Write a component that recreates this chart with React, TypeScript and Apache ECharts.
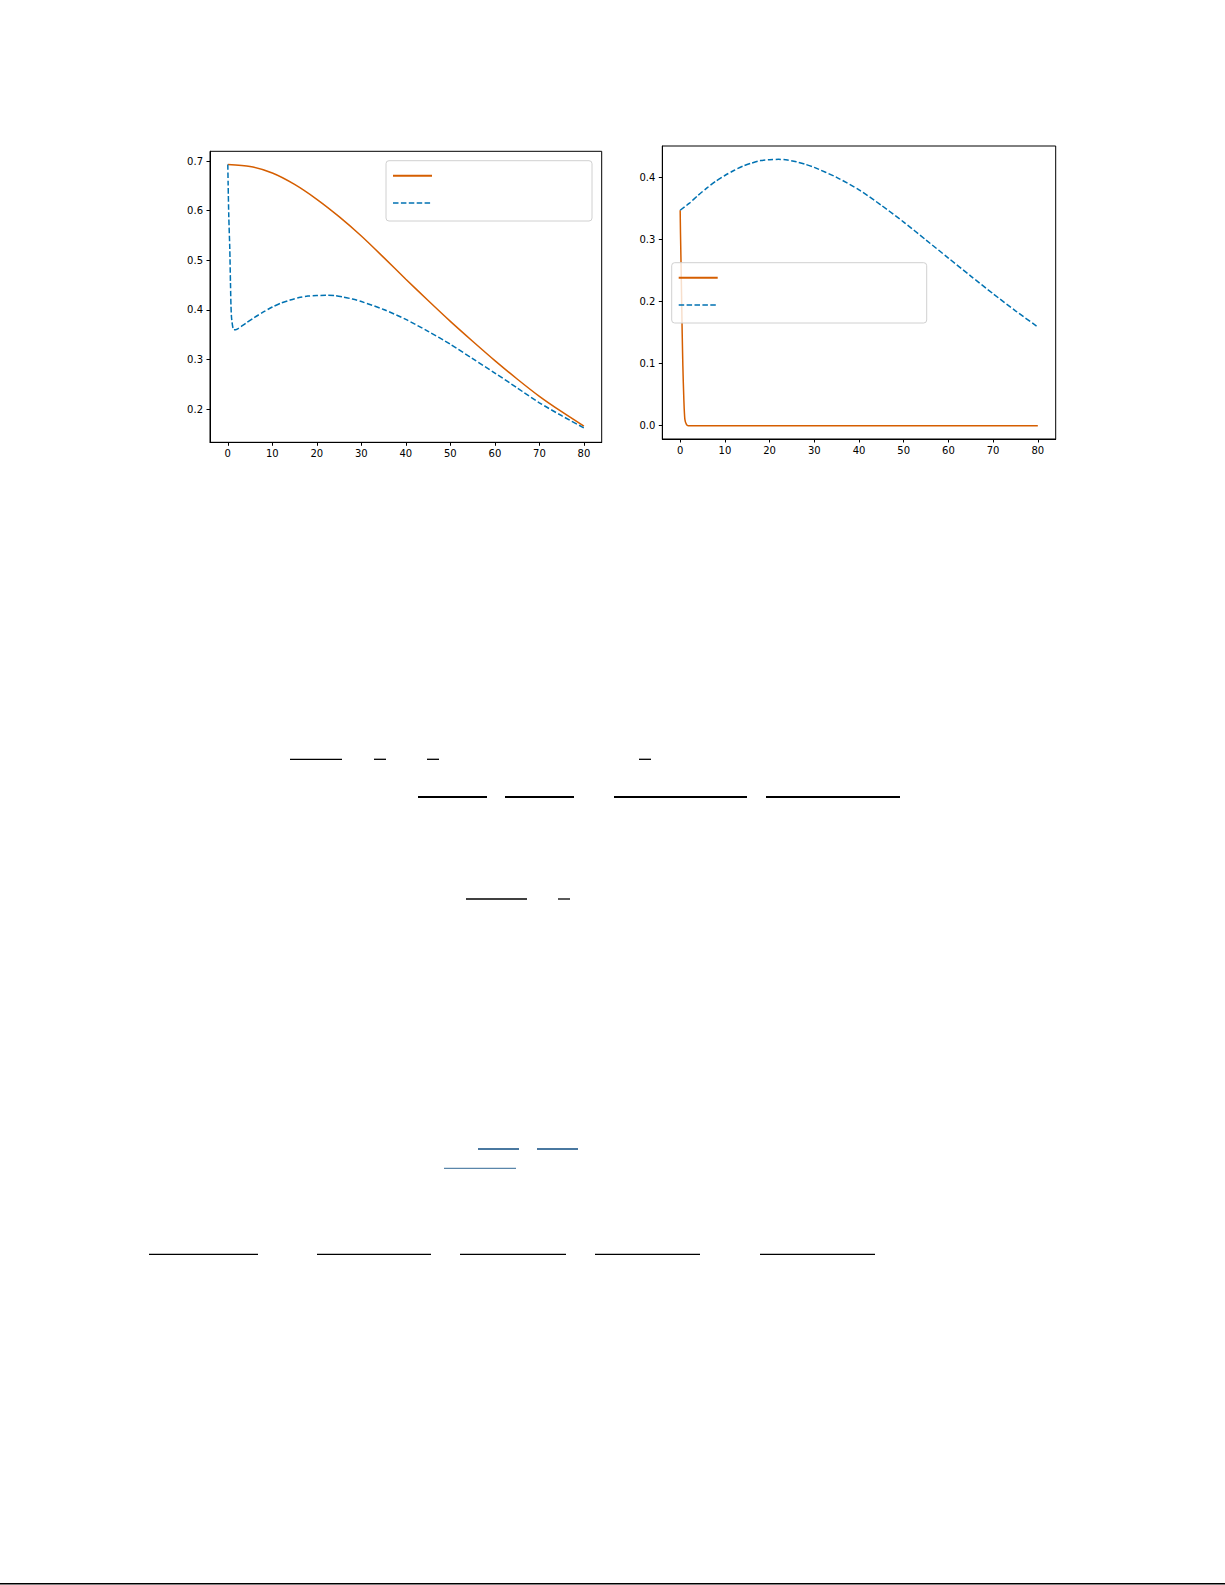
import React, { useEffect, useRef } from 'react';
import * as echarts from 'echarts';

// left panel: two curves starting at ln 2
const leftSolidT = [0, 5, 10, 15, 20, 25, 30, 35, 40, 45, 50, 55, 60, 65, 70, 75, 80];
const leftSolidY = [0.693, 0.689, 0.676, 0.653, 0.623, 0.588, 0.549, 0.506, 0.462, 0.419, 0.377, 0.337, 0.298, 0.261, 0.226, 0.195, 0.166];

const leftDashT = [0, 0.07, 0.22, 0.45, 0.6, 0.82, 1.35, 2, 4, 6, 8, 10, 12, 14, 16, 18, 20, 22, 24, 26, 28, 30, 35, 40, 45, 50, 55, 60, 65, 70, 75, 80];
const leftDashY = [0.693, 0.656, 0.589, 0.522, 0.455, 0.387, 0.36, 0.361, 0.373, 0.385, 0.396, 0.406, 0.414, 0.42, 0.425, 0.428, 0.429, 0.4295, 0.429, 0.426, 0.422, 0.417, 0.401, 0.381, 0.357, 0.331, 0.302, 0.273, 0.243, 0.213, 0.187, 0.1625];

// right panel: fast decay and the slow hump
const rightSolidT = [0, 0.07, 0.22, 0.3, 0.45, 0.6, 0.82, 1.05, 1.4, 1.8, 80];
const rightSolidY = [0.347, 0.31, 0.25, 0.215, 0.149, 0.096, 0.042, 0.01, 0.002, 0, 0];

const rightDashT = [0, 2, 4, 6, 8, 10, 12, 14, 16, 18, 20, 22, 24, 26, 28, 30, 35, 40, 45, 50, 55, 60, 65, 70, 75, 80];
const rightDashY = [0.347, 0.358, 0.371, 0.383, 0.394, 0.403, 0.411, 0.418, 0.423, 0.427, 0.4285, 0.429, 0.428, 0.425, 0.421, 0.416, 0.4, 0.38, 0.355, 0.328, 0.299, 0.27, 0.241, 0.2125, 0.185, 0.159];

const xTicks = [0, 10, 20, 30, 40, 50, 60, 70, 80];
const leftYTicks = [0.2, 0.3, 0.4, 0.5, 0.6, 0.7];
const rightYTicks = [0, 0.1, 0.2, 0.3, 0.4];

const ORANGE = '#d55e00';
const BLUE = '#0072b2';
const FONT = 'DejaVu Sans';

const pairs = (t: number[], y: number[]) => t.map((v, i) => [v, y[i]]);

const legendBox = (x: number, y: number, w: number, h: number) => [
  {
    type: 'rect',
    z: 100,
    shape: { x, y, width: w, height: h, r: 3 },
    style: { fill: 'rgba(255,255,255,0.8)', stroke: '#d0d0d0', lineWidth: 1 },
  },
  {
    type: 'line',
    z: 101,
    shape: { x1: x + 7, y1: y + 15, x2: x + 46, y2: y + 15 },
    style: { stroke: ORANGE, lineWidth: 1.9 },
  },
  {
    type: 'line',
    z: 101,
    shape: { x1: x + 7, y1: y + 42.3, x2: x + 46, y2: y + 42.3 },
    style: { stroke: BLUE, lineWidth: 1.3, lineDash: [5.5, 2.4] },
  },
];

// fraction bars of the page text
const textBars: [number, number, number, number, string][] = [
  [290, 342, 759.3, 1.3, '#000'],
  [374, 386, 759.3, 1.3, '#000'],
  [427, 439, 759.3, 1.3, '#000'],
  [639, 651, 759.3, 1.3, '#000'],
  [418, 487, 797, 2, '#000'],
  [505, 574, 797, 2, '#000'],
  [614, 747, 797, 2, '#000'],
  [766, 900, 797, 2, '#000'],
  [466, 527, 899, 1.3, '#000'],
  [558, 570, 899, 1.3, '#000'],
  [478, 519, 1149, 2, '#4a78a0'],
  [537, 578, 1149, 2, '#4a78a0'],
  [444, 516, 1168.3, 1.2, '#5a86aa'],
  [149, 258, 1254.3, 1.2, '#000'],
  [317, 431, 1254.3, 1.2, '#000'],
  [460, 566, 1254.3, 1.2, '#000'],
  [595, 700, 1254.3, 1.2, '#000'],
  [760, 875, 1254.3, 1.2, '#000'],
  [0, 1225, 1583.7, 1.5, '#000'],
];

const App: React.FC = () => {
  const chartRef = useRef<HTMLDivElement>(null);

  useEffect(() => {
    if (!chartRef.current) return;
    const chart = echarts.init(chartRef.current, undefined, { renderer: 'svg' });

    const xAxisFor = (gridIndex: number) => ({
      gridIndex,
      type: 'value',
      min: -4,
      max: 84,
      splitLine: { show: false },
      axisLine: { show: true, onZero: false, lineStyle: { color: '#000', width: 1 } },
      axisTick: { show: true, length: 3.5, customValues: xTicks, lineStyle: { color: '#000', width: 1 } },
      axisLabel: {
        customValues: xTicks,
        margin: 6,
        fontSize: 10,
        color: '#000',
        fontFamily: FONT,
        formatter: (v: number) => String(v),
      },
    });

    const yAxisFor = (gridIndex: number, min: number, max: number, ticks: number[]) => ({
      gridIndex,
      type: 'value',
      min,
      max,
      splitLine: { show: false },
      axisLine: { show: true, onZero: false, lineStyle: { color: '#000', width: 1 } },
      axisTick: { show: true, length: 3.5, customValues: ticks, lineStyle: { color: '#000', width: 1 } },
      axisLabel: {
        customValues: ticks,
        margin: 7,
        fontSize: 10,
        color: '#000',
        fontFamily: FONT,
        formatter: (v: number) => v.toFixed(1),
      },
    });

    const lineSeries = (
      idx: number,
      t: number[],
      y: number[],
      color: string,
      dashed: boolean
    ) => ({
      type: 'line',
      xAxisIndex: idx,
      yAxisIndex: idx,
      data: pairs(t, y),
      showSymbol: false,
      smooth: 0.25,
      lineStyle: {
        color,
        width: 1.5,
        type: dashed ? [5.5, 2.4] : 'solid',
      },
      z: dashed ? 3 : 2,
    });

    const option: any = {
      animation: false,
      backgroundColor: '#fff',
      grid: [
        { left: 210, top: 151.3, width: 391.7, height: 291, show: true, borderColor: '#000', borderWidth: 1, backgroundColor: 'transparent' },
        { left: 662.3, top: 146, width: 393.4, height: 293, show: true, borderColor: '#000', borderWidth: 1, backgroundColor: 'transparent' },
      ],
      xAxis: [xAxisFor(0), xAxisFor(1)],
      yAxis: [
        yAxisFor(0, 0.1334, 0.7197, leftYTicks),
        yAxisFor(1, -0.0215, 0.4505, rightYTicks),
      ],
      series: [
        lineSeries(0, leftSolidT, leftSolidY, ORANGE, false),
        lineSeries(0, leftDashT, leftDashY, BLUE, true),
        lineSeries(1, rightSolidT, rightSolidY, ORANGE, false),
        lineSeries(1, rightDashT, rightDashY, BLUE, true),
      ],
      graphic: [
        ...legendBox(386, 160.7, 206, 60.3),
        ...legendBox(671.7, 262.7, 255, 60.3),
        ...textBars.map(([x1, x2, y, w, c]) => ({
          type: 'line',
          shape: { x1, y1: y, x2, y2: y },
          style: { stroke: c, lineWidth: w },
        })),
      ],
    };

    chart.setOption(option);
    return () => {
      chart.dispose();
    };
  }, []);

  return (
    <div
      ref={chartRef}
      style={{ position: 'fixed', left: 0, top: 0, width: 1225, height: 1585, background: '#fff' }}
    ></div>
  );
};

export default App;
